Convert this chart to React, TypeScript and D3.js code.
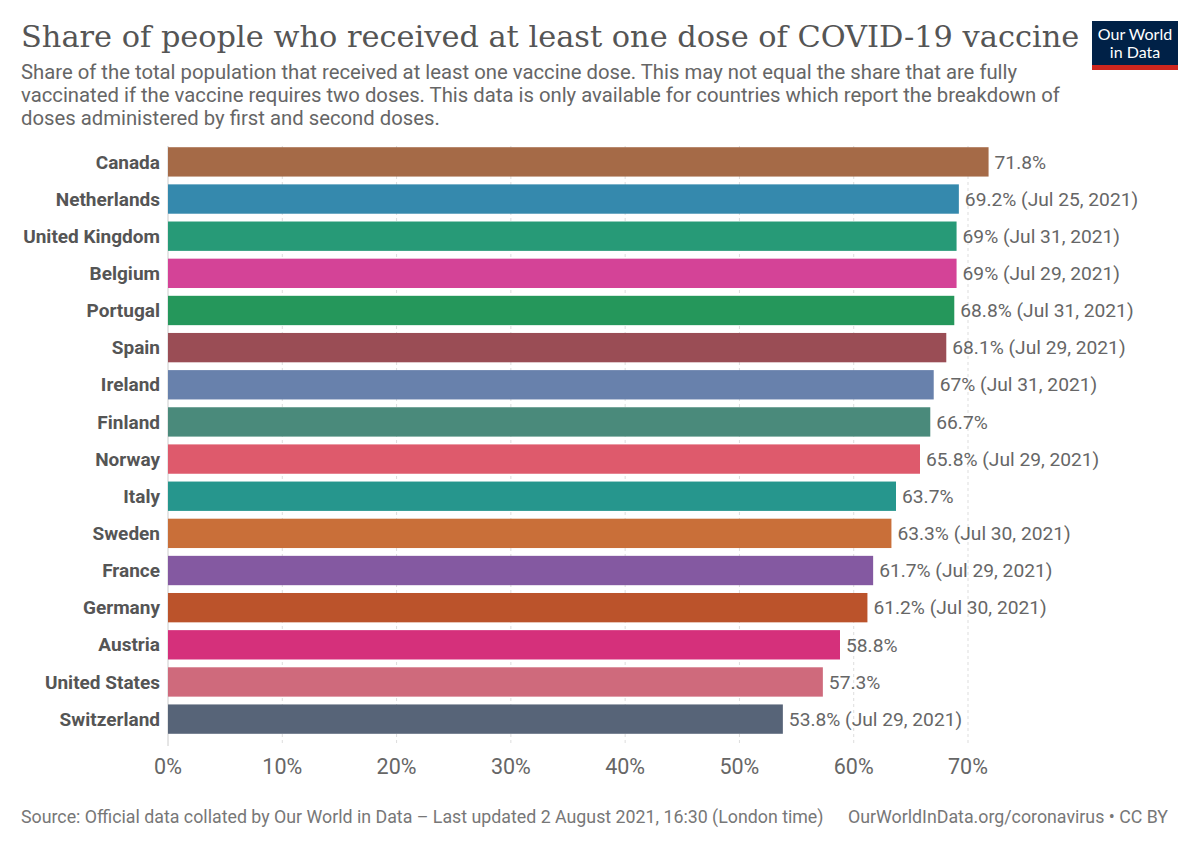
import React, { useEffect, useRef } from 'react';
import * as d3 from 'd3';

const countries = [
  'Canada', 'Netherlands', 'United Kingdom', 'Belgium', 'Portugal', 'Spain', 'Ireland', 'Finland',
  'Norway', 'Italy', 'Sweden', 'France', 'Germany', 'Austria', 'United States', 'Switzerland',
];
const shares = [71.8, 69.2, 69, 69, 68.8, 68.1, 67, 66.7, 65.8, 63.7, 63.3, 61.7, 61.2, 58.8, 57.3, 53.8];
const dates = [
  '', 'Jul 25, 2021', 'Jul 31, 2021', 'Jul 29, 2021', 'Jul 31, 2021', 'Jul 29, 2021', 'Jul 31, 2021', '',
  'Jul 29, 2021', '', 'Jul 30, 2021', 'Jul 29, 2021', 'Jul 30, 2021', '', '', 'Jul 29, 2021',
];
const barColors = [
  '#a56a47', '#3589ad', '#279a77', '#d44397', '#25975b', '#9a4d55', '#6881ac', '#4a8a7b',
  '#de5a6c', '#26968d', '#c96f39', '#8459a1', '#bb532b', '#d5307b', '#cf6a7c', '#576478',
];
const xTicks = [0, 10, 20, 30, 40, 50, 60, 70];

const subtitleLines = [
  'Share of the total population that received at least one vaccine dose. This may not equal the share that are fully',
  'vaccinated if the vaccine requires two doses. This data is only available for countries which report the breakdown of',
  'doses administered by first and second doses.',
];

const width = 1200;
const height = 847;

export default function App() {
  const svgRef = useRef<SVGSVGElement>(null);

  useEffect(() => {
    if (!svgRef.current) return;
    const svg = d3.select(svgRef.current);
    svg.selectAll('*').remove();

    const sans = 'Roboto, "Noto Sans", sans-serif';

    svg.append('rect').attr('width', width).attr('height', height).attr('fill', '#ffffff');

    // title + subtitle
    svg.append('text')
      .attr('x', 21).attr('y', 47)
      .attr('font-family', '"DejaVu Serif", serif').attr('font-size', '30.4px')
      .attr('fill', '#555555')
      .text('Share of people who received at least one dose of COVID-19 vaccine');

    svg.append('g').selectAll('text').data(subtitleLines).enter().append('text')
      .attr('x', 21).attr('y', (_, i) => 79 + i * 23)
      .attr('font-family', sans).attr('font-size', '20.3px').attr('fill', '#666666')
      .text(d => d);

    // logo
    const logo = svg.append('g').attr('transform', 'translate(1092,21)');
    logo.append('rect').attr('width', 86).attr('height', 49).attr('fill', '#002147');
    logo.append('rect').attr('y', 44).attr('width', 86).attr('height', 5).attr('fill', '#ce261e');
    logo.append('text').attr('x', 43).attr('y', 19).attr('text-anchor', 'middle')
      .attr('font-family', 'Lato, sans-serif').attr('font-size', '16px').attr('fill', '#ffffff').text('Our World');
    logo.append('text').attr('x', 43).attr('y', 37).attr('text-anchor', 'middle')
      .attr('font-family', 'Lato, sans-serif').attr('font-size', '16px').attr('fill', '#ffffff').text('in Data');

    // scales
    const x = d3.scaleLinear().domain([0, 70]).range([168, 968]);
    const y = d3.scaleBand<string>().domain(countries).range([143.5, 737.5]).paddingInner(0.21).paddingOuter(0.1);
    const gridTop = 146;
    const gridBottom = 746;

    // gridlines
    svg.append('g').selectAll('line').data(xTicks).enter().append('line')
      .attr('x1', d => x(d)).attr('x2', d => x(d))
      .attr('y1', gridTop).attr('y2', gridBottom)
      .attr('stroke', d => (d === 0 ? '#cccccc' : '#dddddd'))
      .attr('stroke-width', 1)
      .attr('stroke-dasharray', d => (d === 0 ? null : '3,3'));

    // bars
    svg.append('g').selectAll('rect').data(countries).enter().append('rect')
      .attr('x', x(0))
      .attr('y', d => y(d)!)
      .attr('width', (_, i) => x(shares[i]) - x(0))
      .attr('height', y.bandwidth())
      .attr('fill', (_, i) => barColors[i]);

    // country labels
    svg.append('g').selectAll('text').data(countries).enter().append('text')
      .attr('x', 160).attr('y', d => y(d)! + y.bandwidth() / 2)
      .attr('dy', '0.35em').attr('text-anchor', 'end')
      .attr('font-family', sans).attr('font-size', '19px').attr('font-weight', 'bold')
      .attr('fill', '#555555')
      .text(d => d);

    // value labels
    svg.append('g').selectAll('text').data(countries).enter().append('text')
      .attr('x', (_, i) => x(shares[i]) + 6).attr('y', d => y(d)! + y.bandwidth() / 2)
      .attr('dy', '0.35em')
      .attr('font-family', sans).attr('font-size', '19.2px')
      .attr('fill', '#666666')
      .text((_, i) => `${shares[i]}%${dates[i] ? ` (${dates[i]})` : ''}`);

    // x axis labels
    svg.append('g').selectAll('text').data(xTicks).enter().append('text')
      .attr('x', d => x(d)).attr('y', 766).attr('dy', '0.35em').attr('text-anchor', 'middle')
      .attr('font-family', sans).attr('font-size', '21.5px').attr('fill', '#666666')
      .text(d => `${d}%`);

    // footer
    svg.append('text').attr('x', 21).attr('y', 823)
      .attr('font-family', sans).attr('font-size', '17.8px').attr('fill', '#777777')
      .text('Source: Official data collated by Our World in Data – Last updated 2 August 2021, 16:30 (London time)');
    svg.append('text').attr('x', 1168).attr('y', 823).attr('text-anchor', 'end')
      .attr('font-family', sans).attr('font-size', '17.8px').attr('fill', '#777777')
      .text('OurWorldInData.org/coronavirus • CC BY');
  }, []);

  return (
    <div style={{ position: 'absolute', top: 0, left: 0 }}>
      <svg ref={svgRef} width={width} height={height} viewBox={`0 0 ${width} ${height}`} style={{ display: 'block' }} />
    </div>
  );
}
